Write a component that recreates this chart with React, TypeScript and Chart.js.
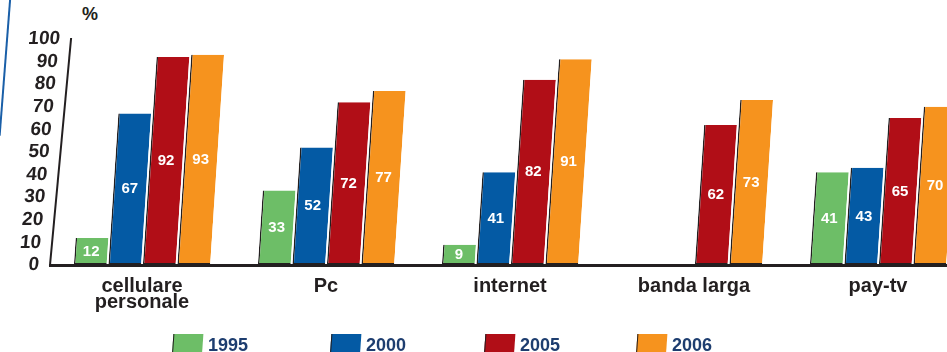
import React, { useEffect, useRef } from "react";
import { Chart, registerables, LinearScale } from "chart.js";

const categories: (string | string[])[] = [["cellulare", "personale"], "Pc", "internet", "banda larga", "pay-tv"];
const years = ["1995", "2000", "2005", "2006"];
const values1995: (number | null)[] = [12, 33, 9, null, 41];
const values2000: (number | null)[] = [67, 52, 41, null, 43];
const values2005: (number | null)[] = [92, 72, 82, 62, 65];
const values2006: (number | null)[] = [93, 77, 91, 73, 70];
const yTicks = [0, 10, 20, 30, 40, 50, 60, 70, 80, 90, 100];

const colors = ["#6dbe67", "#045aa4", "#b10e17", "#f6931e"];
const INK = "#231f20";
const FONT = "'Liberation Sans', Arial, Helvetica, sans-serif";
const AXIS_SKEW = 0.093;
const BAR_SKEW = 0.066;

class SkewLinearScale extends LinearScale {
  draw(chartArea: any) {
    const ctx = (this as any).ctx as CanvasRenderingContext2D;
    const y0 = (this as any).bottom;
    ctx.save();
    ctx.transform(1, 0, -AXIS_SKEW, 1, AXIS_SKEW * y0, 0);
    super.draw(chartArea);
    ctx.restore();
  }
}
(SkewLinearScale as any).id = "skewLinear";
(SkewLinearScale as any).defaults = (LinearScale as any).defaults;

Chart.register(...registerables, SkewLinearScale as any);

const skewBars = {
  id: "skewBars",
  beforeDatasetsDraw(chart: any) {
    const ctx = chart.ctx as CanvasRenderingContext2D;
    const y0 = chart.scales.y.getPixelForValue(0);
    ctx.save();
    ctx.transform(1, 0, -BAR_SKEW, 1, BAR_SKEW * y0, 0);
  },
  afterDatasetsDraw(chart: any) {
    const ctx = chart.ctx as CanvasRenderingContext2D;
    ctx.restore();
    const y0 = chart.scales.y.getPixelForValue(0);
    ctx.save();
    ctx.fillStyle = "#ffffff";
    ctx.font = `bold 15px ${FONT}`;
    ctx.textAlign = "center";
    ctx.textBaseline = "middle";
    chart.data.datasets.forEach((ds: any, di: number) => {
      const meta = chart.getDatasetMeta(di);
      meta.data.forEach((el: any, i: number) => {
        const v = ds.data[i];
        if (v === null || v === undefined) return;
        const mid = (el.y + el.base) / 2;
        const x = el.x + BAR_SKEW * (y0 - mid);
        ctx.fillText(String(v), x, mid);
      });
    });
    ctx.restore();
  },
};

export default function App() {
  const ref = useRef<HTMLCanvasElement>(null);
  useEffect(() => {
    if (!ref.current) return;
    Chart.defaults.font.family = FONT;
    const series = [values1995, values2000, values2005, values2006];
    const chart = new Chart(ref.current, {
      type: "bar",
      data: {
        labels: categories,
        datasets: years.map((y, i) => ({
          label: y,
          data: series[i],
          backgroundColor: colors[i],
          borderColor: INK,
          borderWidth: { left: 1.5, bottom: 2, top: 0, right: 0 },
          borderSkipped: false,
          barPercentage: 0.95,
          categoryPercentage: 0.75,
          clip: false,
        })) as any,
      },
      options: {
        responsive: false,
        animation: false,
        events: [],
        layout: { padding: { top: 39, left: 0, right: 10, bottom: 27 } },
        plugins: { legend: { display: false }, tooltip: { enabled: false }, title: { display: false } },
        scales: {
          x: {
            type: "category",
            afterFit: (s: any) => {
              s.height = 60;
            },
            grid: { display: false, drawTicks: false },
            border: { display: true, color: INK, width: 3 },
            ticks: {
              color: INK,
              padding: 13,
              font: { size: 20, weight: "bold", lineHeight: "16px" },
              maxRotation: 0,
              autoSkip: false,
            },
          },
          y: {
            type: "skewLinear" as any,
            min: 0,
            max: 100,
            afterFit: (s: any) => {
              s.width = 50;
            },
            afterBuildTicks: (s: any) => {
              s.ticks = yTicks.map((v) => ({ value: v }));
            },
            grid: { display: false, drawTicks: false },
            border: { display: true, color: INK, width: 2 },
            ticks: {
              color: INK,
              padding: 11,
              autoSkip: false,
              font: { size: 19, weight: "bold", lineHeight: 1 },
            },
          } as any,
        },
      },
      plugins: [skewBars],
    });
    return () => chart.destroy();
  }, []);

  const legendLefts = [172, 330, 484, 636];
  return (
    <div style={{ position: "absolute", left: 0, top: 0, width: 947, height: 352, overflow: "hidden", background: "#fff", fontFamily: FONT }}>
      <div style={{ position: "absolute", left: 4, top: -4, width: 2, height: 140, background: "#1a5fa8", transform: "rotate(4.4deg)" }} />
      <div style={{ position: "absolute", left: 82, top: 5, fontSize: 18, lineHeight: "18px", fontWeight: "bold", color: INK }}>%</div>
      <canvas ref={ref} width={980} height={352} style={{ position: "absolute", left: 0, top: 0, width: 980, height: 352 }} />
      {years.map((y, i) => (
        <div key={y} style={{ position: "absolute", left: legendLefts[i], top: 334, height: 20 }}>
          <div style={{ position: "absolute", left: 0, top: 0, width: 29, height: 20, background: colors[i], borderLeft: `1px solid ${INK}`, transform: "skewX(-4deg)", transformOrigin: "bottom left" }} />
          <div style={{ position: "absolute", left: 36, top: 2, fontSize: 18, lineHeight: "18px", fontWeight: "bold", color: "#1d3d6f", whiteSpace: "nowrap" }}>{y}</div>
        </div>
      ))}
    </div>
  );
}
